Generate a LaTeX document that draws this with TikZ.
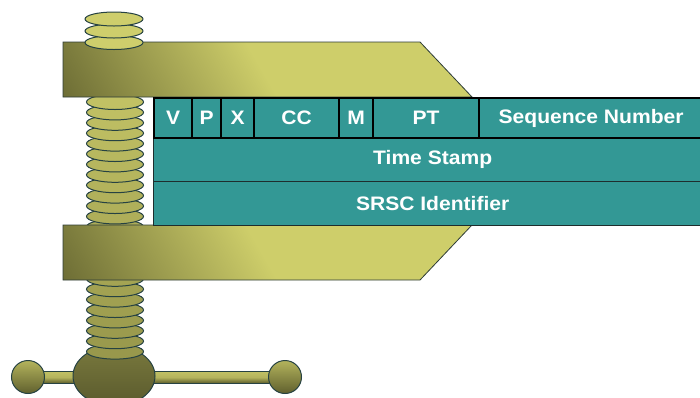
\documentclass[tikz,border=0pt]{standalone}
\usepackage{fontspec}
\newfontfamily\labelfont[FakeStretch=1.08]{Liberation Sans}

\definecolor{jawdark}{RGB}{96,96,46}
\definecolor{jawlight}{RGB}{206,206,106}
\definecolor{jawline}{RGB}{45,60,55}
\definecolor{threadlight}{RGB}{206,206,108}
\definecolor{threaddark}{RGB}{118,118,56}
\definecolor{screwline}{RGB}{38,66,66}
\definecolor{ballcol}{RGB}{100,100,50}
\definecolor{fieldfill}{RGB}{51,152,149}
\definecolor{rowline}{RGB}{30,45,45}

% tilted metal sheen of the jaws
\pgfdeclarehorizontalshading{jawshade}{100bp}{color(0bp)=(jawdark); color(40bp)=(jawdark); color(56bp)=(jawlight); color(100bp)=(jawlight)}

\newcommand\drawjaw[3]{% #1 outline, #2 cx, #3 cy
  \begin{scope}
    \clip #1;
    \begin{scope}[transform canvas={rotate around={30:(#2,#3)}}]
      \path[shade, shading=jawshade] (#2-330,#3-330) rectangle (#2+330,#3+330);
    \end{scope}
  \end{scope}
  \draw[draw=jawline, line width=0.8pt] #1;
}

\begin{document}
\begin{tikzpicture}[x=1pt,y=-1pt,
  thread/.style={draw=screwline, line width=1pt},
  field/.style={draw=black, line width=2.2pt, fill=fieldfill, text=white,
    font=\labelfont\bfseries\fontsize{19.5}{22}\selectfont,
    inner sep=0pt, anchor=north west, minimum height=40},
  wide/.style={draw=rowline, line width=1.3pt, fill=fieldfill, text=white,
    font=\labelfont\bfseries\fontsize{19.5}{22}\selectfont,
    inner sep=0pt, anchor=north west, minimum height=44, minimum width=558}]

\useasboundingbox (0,0) rectangle (700,397);

% handle bar and knobs
\path[draw=screwline, line width=0.8pt, top color=threadlight!85!threaddark,
  bottom color=jawdark, middle color=threadlight!70!threaddark]
  (28,371.5) rectangle (285,383);
\path[draw=screwline, line width=1pt, top color=threadlight!70!threaddark, bottom color=jawdark]
  (28,377) circle [radius=16.5];
\path[draw=screwline, line width=1pt, top color=threadlight!70!threaddark, bottom color=jawdark]
  (285,377) circle [radius=16.5];

% ball at the foot of the screw
\path[draw=screwline, line width=1pt, top color=ballcol!80!threadlight, bottom color=ballcol!90!black]
  (114,376) ellipse [x radius=41, y radius=30];

% threaded shaft, drawn from the bottom up
\foreach \k in {24,23,...,0}{
  \pgfmathsetmacro\yy{102+10.4*\k}
  \pgfmathsetmacro\pc{100-0.185*(\yy-20)}
  \draw[thread, fill=threadlight!\pc!threaddark] (115,\yy) ellipse [x radius=28.5, y radius=7.5];
}

% jaws
\drawjaw{(63,42) -- (420,42) -- (472,97) -- (63,97) -- cycle}{170}{69}
\drawjaw{(63,225) -- (472,225) -- (420,280) -- (63,280) -- cycle}{170}{252}

% nut above the upper jaw
\foreach \yy in {42.5,31,19}{
  \draw[thread, fill=threadlight] (114,\yy) ellipse [x radius=29, y radius=7];
}

% header fields
\node[wide] (ts) at (153,137) {Time Stamp};
\node[wide] (ssrc) at (153,181) {SRSC Identifier};
\node[field, minimum width=38] (v) at (153,97) {V};
\node[field, minimum width=29] (p) at (191,97) {P};
\node[field, minimum width=33] (x) at (220,97) {X};
\node[field, minimum width=85] (cc) at (253,97) {CC};
\node[field, minimum width=34] (m) at (338,97) {M};
\node[field, minimum width=106] (pt) at (372,97) {PT};
\node[field, minimum width=224] (seq) at (478,97) {Sequence Number};

\end{tikzpicture}
\end{document}
